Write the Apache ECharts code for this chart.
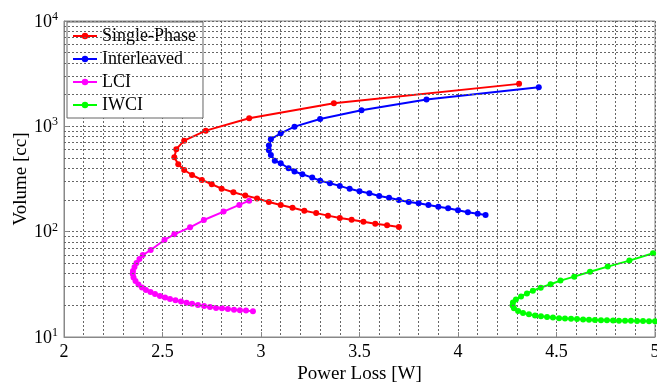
<!DOCTYPE html>
<html>
<head>
<meta charset="utf-8">
<script src="https://cdn.jsdelivr.net/npm/echarts@6/dist/echarts.min.js"></script>
<style>
  html, body { margin: 0; padding: 0; background: #fff; }
  #chart { width: 657px; height: 382px; }
</style>
</head>
<body>
<div id="chart"></div>
<script>
  // [power loss (W), volume (cc)]
  const singlePhase = [
    [4.31, 2530], [3.37, 1656], [2.94, 1194], [2.72, 910], [2.61, 731], [2.57, 607],
    [2.56, 509], [2.58, 437], [2.61, 385], [2.65, 345], [2.70, 310], [2.75, 282],
    [2.80, 256], [2.86, 237], [2.92, 220], [2.98, 207], [3.04, 191], [3.10, 179],
    [3.16, 169], [3.22, 158], [3.28, 150], [3.34, 142], [3.40, 135], [3.46, 130],
    [3.52, 124], [3.58, 119], [3.64, 115], [3.70, 111]
  ];
  const interleaved = [
    [4.41, 2350], [3.84, 1795], [3.51, 1422], [3.30, 1175], [3.17, 993], [3.10, 859],
    [3.05, 754], [3.04, 656], [3.04, 594], [3.05, 535], [3.07, 472], [3.10, 446],
    [3.14, 400], [3.17, 372], [3.21, 351], [3.26, 326], [3.30, 305], [3.35, 288],
    [3.40, 272], [3.45, 255], [3.50, 242], [3.55, 232], [3.60, 218], [3.65, 210],
    [3.70, 200], [3.75, 191], [3.80, 186], [3.85, 179], [3.90, 172], [3.95, 167],
    [4.00, 160], [4.05, 153], [4.10, 148], [4.14, 144]
  ];
  const lci = [
    [2.94, 197], [2.89, 179.5], [2.81, 155], [2.71, 129], [2.64, 110], [2.56, 94.4],
    [2.51, 83.4], [2.44, 67], [2.40, 60], [2.383, 55], [2.368, 50.5], [2.358, 46.2],
    [2.350, 42.4], [2.349, 39.6], [2.353, 36.7], [2.363, 34.0], [2.378, 31.5],
    [2.396, 29.5], [2.416, 27.9], [2.439, 26.7], [2.462, 25.6], [2.487, 24.5],
    [2.513, 23.7], [2.538, 22.9], [2.566, 22.3], [2.594, 21.7], [2.622, 21.2],
    [2.650, 20.7], [2.680, 20.1], [2.711, 19.7], [2.741, 19.3], [2.772, 18.9],
    [2.802, 18.7], [2.832, 18.4], [2.863, 18.1], [2.893, 17.9], [2.924, 17.8], [2.959, 17.6]
  ];
  const iwci = [
    [4.99, 62.4], [4.87, 53.1], [4.76, 46.6], [4.67, 41.7], [4.59, 37.4], [4.52, 34.3],
    [4.47, 31.7], [4.42, 29.4], [4.38, 27.5], [4.350, 25.9], [4.320, 24.3], [4.294, 22.7],
    [4.279, 21.3], [4.277, 19.9], [4.284, 18.7], [4.305, 17.7], [4.330, 16.9],
    [4.360, 16.4], [4.391, 16.0], [4.421, 15.7], [4.452, 15.5], [4.482, 15.3],
    [4.513, 15.1], [4.543, 15.0], [4.574, 14.9], [4.604, 14.8], [4.635, 14.7],
    [4.665, 14.6], [4.695, 14.5], [4.726, 14.45], [4.756, 14.4], [4.787, 14.35],
    [4.817, 14.3], [4.848, 14.26], [4.878, 14.23], [4.909, 14.2], [4.939, 14.16],
    [4.970, 14.13], [5.000, 14.1]
  ];
  const seriesNames = ['Single-Phase', 'Interleaved', 'LCI', 'IWCI'];
  const seriesColors = ['#ff0000', '#0000ff', '#ff00ff', '#00ff00'];
  const yMinorTicks = [20, 30, 40, 50, 60, 70, 80, 90, 200, 300, 400, 500, 600, 700, 800, 900,
    2000, 3000, 4000, 5000, 6000, 7000, 8000, 9000];

  const font = '"Liberation Serif", "DejaVu Serif", serif';
  const gridColor = '#666';

  let myChart = echarts.init(document.getElementById('chart'));
  let allData = [singlePhase, interleaved, lci, iwci];
  let series = [];
  for (let i = 0; i < allData.length; i++) {
    series.push({
      name: seriesNames[i],
      type: 'line',
      data: allData[i],
      symbol: 'circle',
      symbolSize: 6,
      z: 3,
      itemStyle: { color: seriesColors[i] },
      lineStyle: { color: seriesColors[i], width: 2 }
    });
  }
  // minor log gridlines (2..9 per decade)
  series.push({
    name: 'minorGrid',
    type: 'line',
    data: [[2, 10]],
    symbol: 'none',
    z: 1,
    lineStyle: { opacity: 0 },
    markLine: {
      silent: true,
      symbol: 'none',
      label: { show: false },
      lineStyle: { color: gridColor, width: 1, type: [2, 2] },
      data: yMinorTicks.map(v => ({ yAxis: v }))
    }
  });

  let option = {
    animation: false,
    backgroundColor: '#fff',
    grid: {
      left: 64, right: 2, top: 21, bottom: 45,
      outerBoundsMode: 'none',
      containLabel: false,
      show: true, borderColor: '#888', borderWidth: 1
    },
    legend: {
      data: seriesNames,
      orient: 'vertical',
      left: 67,
      top: 22,
      itemWidth: 24,
      itemHeight: 8,
      itemGap: 5,
      padding: [5, 7, 4, 5],
      backgroundColor: '#fff',
      borderColor: '#666',
      borderWidth: 1,
      textStyle: { fontFamily: font, fontSize: 18, color: '#000' }
    },
    xAxis: {
      type: 'value',
      min: 2,
      max: 5,
      interval: 0.5,
      name: 'Power Loss [W]',
      nameLocation: 'middle',
      nameGap: 28,
      nameMoveOverlap: false,
      nameTextStyle: { fontFamily: font, fontSize: 19, color: '#000' },
      axisLine: { lineStyle: { color: '#888' } },
      axisTick: { inside: true, length: 5, lineStyle: { color: '#888' } },
      minorTick: { show: true, splitNumber: 5, length: 0 },
      axisLabel: { fontFamily: font, fontSize: 18, color: '#000', margin: 6 },
      splitLine: { lineStyle: { color: gridColor, type: [2, 2] } },
      minorSplitLine: { show: true, lineStyle: { color: gridColor, type: [2, 2] } }
    },
    yAxis: {
      type: 'log',
      logBase: 10,
      min: 10,
      max: 10000,
      name: 'Volume [cc]',
      nameLocation: 'middle',
      nameGap: 33,
      nameMoveOverlap: false,
      nameTextStyle: { fontFamily: font, fontSize: 19, color: '#000' },
      axisLine: { lineStyle: { color: '#888' } },
      axisTick: { inside: true, length: 5, lineStyle: { color: '#888' } },
      axisLabel: {
        margin: 6,
        formatter: function (value) {
          return '{b|10}{s|' + Math.round(Math.log10(value)) + '}';
        },
        rich: {
          b: { fontFamily: font, fontSize: 18, color: '#000', lineHeight: 20, verticalAlign: 'bottom' },
          s: { fontFamily: font, fontSize: 12, color: '#000', lineHeight: 12, verticalAlign: 'top' }
        }
      },
      splitLine: { lineStyle: { color: gridColor, type: [2, 2] } }
    },
    series: series
  };

  myChart.setOption(option);
</script>
</body>
</html>
